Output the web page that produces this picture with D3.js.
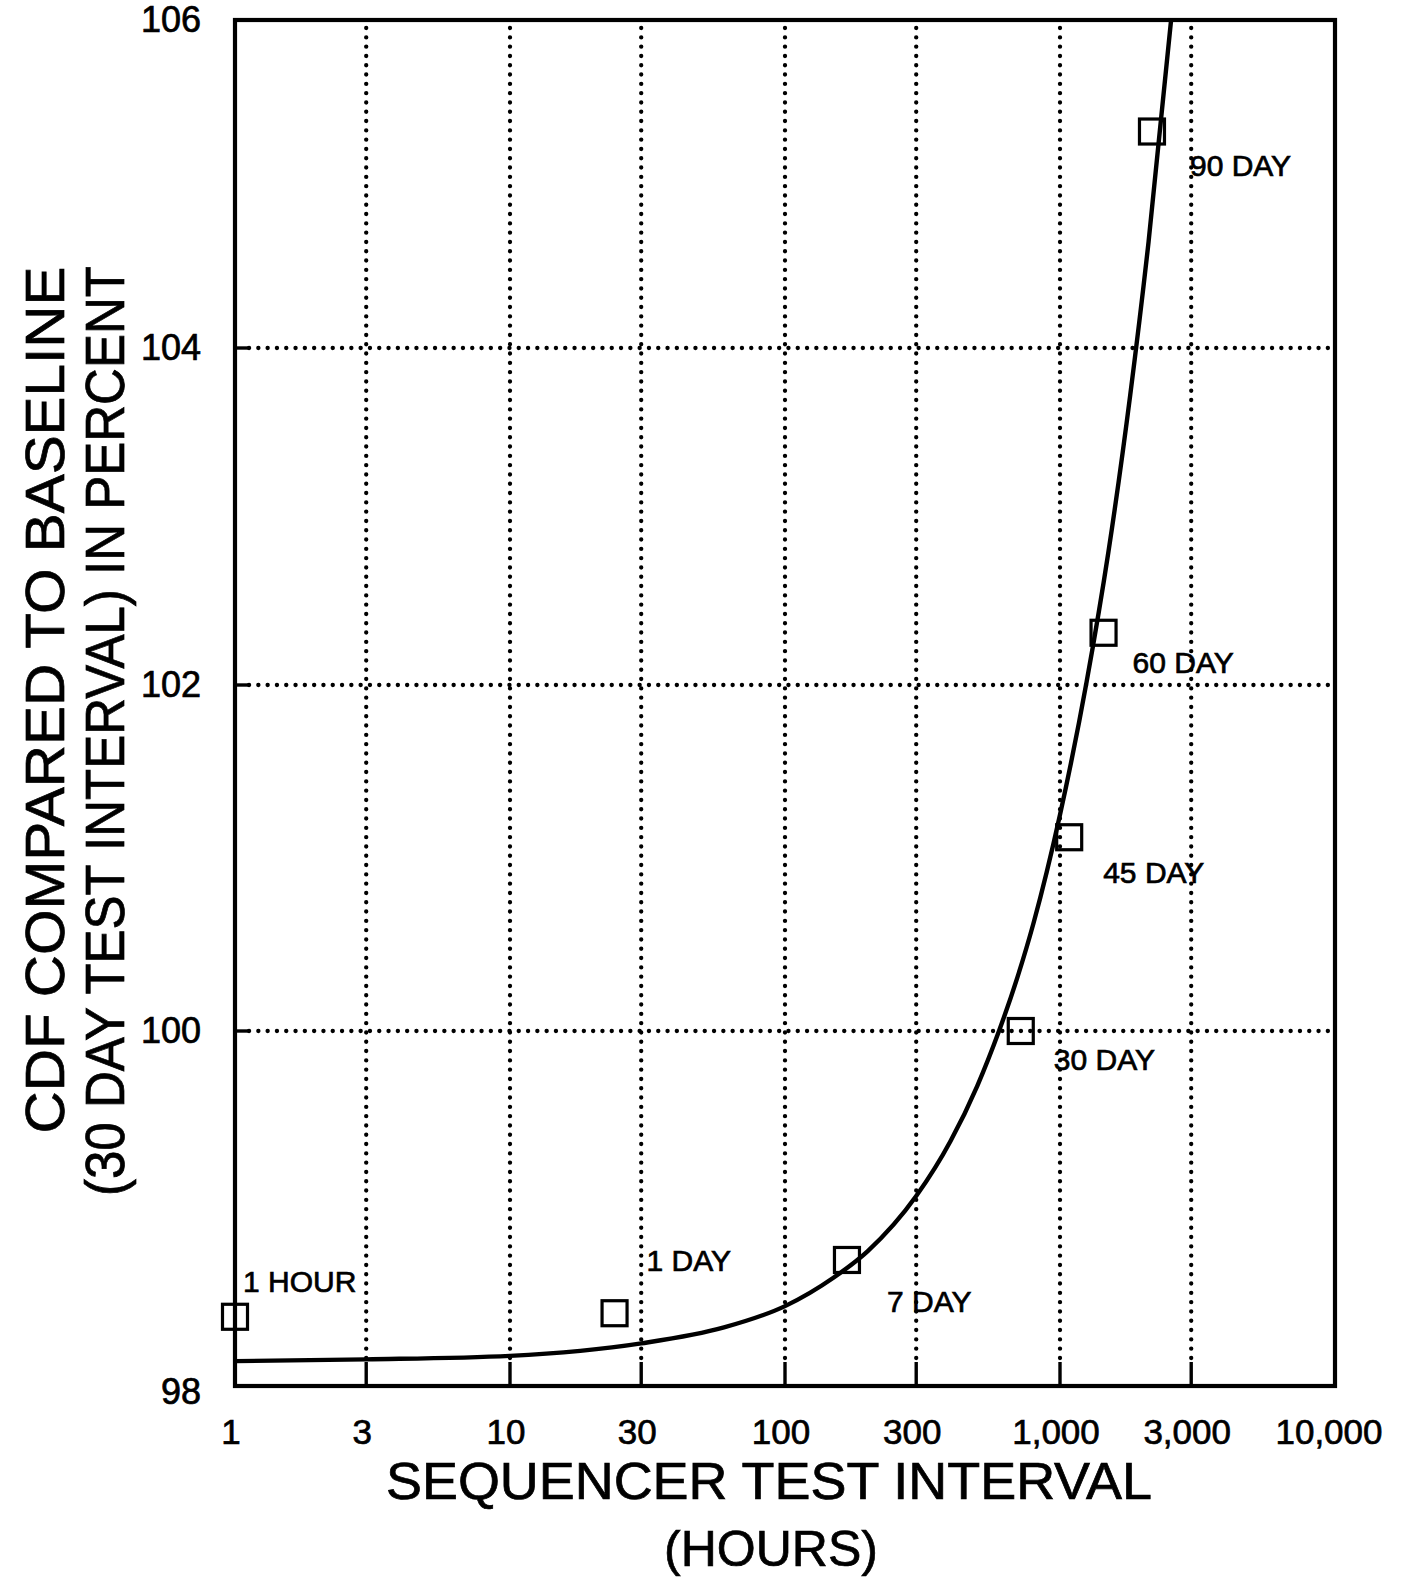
<!DOCTYPE html>
<html>
<head>
    <meta charset='utf-8'/>
    <title>sequencer test interval</title>
    <style>
        body { margin: 0; background: #fff; }
        text { font-family: "Liberation Sans", Arial, Helvetica, sans-serif; fill: #000; stroke: #000; stroke-width: 0.7px; }
        .grid { stroke: #000; stroke-width: 4.3; stroke-linecap: round; stroke-dasharray: 0.1 9.2; fill: none; }
        .frame { stroke: #000; stroke-width: 4.2; fill: none; }
        .curve { stroke: #000; stroke-width: 4.4; fill: none; }
        .pt { stroke: #000; stroke-width: 3.2; fill: none; }
    </style>
</head>
<body>
<div id="chart"></div>

<script src="https://d3js.org/d3.v7.min.js"></script>
<script type="text/javascript">

    // tested intervals (hours) and CDF relative to the 30 day baseline
    var hours = [1, 24, 168, 720, 1080, 1440, 2160];
    var cdfPct = [98.39, 98.41, 98.71, 100.0, 101.12, 102.31, 105.32];
    var pointNames = ["1 HOUR", "1 DAY", "7 DAY", "30 DAY", "45 DAY", "60 DAY", "90 DAY"];

    // fitted curve
    var curveHours = [1, 3, 10, 30, 60, 100, 150, 200, 300, 400, 500, 600, 700, 800, 1000, 1250, 1500, 1800, 2100, 2535];
    var curvePct = [98.14, 98.15, 98.17, 98.24, 98.33, 98.45, 98.61, 98.76, 99.07, 99.38, 99.69, 100.0, 100.31, 100.62, 101.25, 102.02, 102.79, 103.72, 104.65, 106.0];

    // axes
    var xTicks = [1, 3, 10, 30, 100, 300, 1000, 3000, 10000];
    var xTickLabels = ["1", "3", "10", "30", "100", "300", "1,000", "3,000", "10,000"];
    var yTicks = [98, 100, 102, 104, 106];
    var yTickLabels = ["98", "100", "102", "104", "106"];

    // dims
    var svg_dx = 1405,
        svg_dy = 1580,
        plot = {left: 235, right: 1335, top: 20, bottom: 1386};

    var x = d3.scaleLog().domain([1, 10000]).range([plot.left, plot.right]);
    // scan is slightly stretched toward the bottom, so piecewise
    var y = d3.scaleLinear().domain(yTicks).range([plot.bottom, 1031, 685, 348, plot.top]);

    var svg = d3.select("#chart")
        .append("svg")
        .attr("width", svg_dx)
        .attr("height", svg_dy);

    svg.append("defs").append("clipPath")
        .attr("id", "plotclip")
        .append("rect")
        .attr("x", plot.left).attr("y", plot.top)
        .attr("width", plot.right - plot.left).attr("height", plot.bottom - plot.top);

    /* dotted grid */
    var grid = svg.append("g");

    grid.selectAll("line.vgrid")
        .data(xTicks.slice(1, -1))
        .enter()
        .append("line")
        .attr("class", "grid vgrid")
        .attr("x1", d => x(d)).attr("x2", d => x(d))
        .attr("y1", plot.top + 8).attr("y2", plot.bottom - 24);

    grid.selectAll("line.hgrid")
        .data(yTicks.slice(1, -1))
        .enter()
        .append("line")
        .attr("class", "grid hgrid")
        .attr("x1", plot.left + 14).attr("x2", plot.right - 4)
        .attr("y1", d => y(d)).attr("y2", d => y(d));

    // solid ticks inside frame
    grid.selectAll("line.xtick")
        .data(xTicks.slice(1, -1))
        .enter()
        .append("line")
        .attr("class", "xtick")
        .attr("stroke", "#000").attr("stroke-width", 3.4)
        .attr("x1", d => x(d)).attr("x2", d => x(d))
        .attr("y1", plot.bottom).attr("y2", plot.bottom - 24);

    grid.selectAll("line.ytick")
        .data(yTicks.slice(1, -1))
        .enter()
        .append("line")
        .attr("class", "ytick")
        .attr("stroke", "#000").attr("stroke-width", 3.4)
        .attr("x1", plot.left).attr("x2", plot.left + 14)
        .attr("y1", d => y(d)).attr("y2", d => y(d));

    /* frame */
    svg.append("rect")
        .attr("class", "frame")
        .attr("x", plot.left).attr("y", plot.top)
        .attr("width", plot.right - plot.left).attr("height", plot.bottom - plot.top);

    /* tick labels */
    svg.append("g").selectAll("text")
        .data(xTicks)
        .enter()
        .append("text")
        .attr("x", (d, i) => x(d) - (i == xTicks.length - 1 ? 6 : 4))
        .attr("y", 1444)
        .attr("text-anchor", "middle")
        .style("font-size", "35px")
        .text((d, i) => xTickLabels[i]);

    svg.append("g").selectAll("text")
        .data(yTicks)
        .enter()
        .append("text")
        .attr("x", 201)
        .attr("y", (d, i) => y(d) + (i == 0 ? 18 : 12))
        .attr("text-anchor", "end")
        .style("font-size", "36px")
        .text((d, i) => yTickLabels[i]);

    /* fitted curve */
    var line = d3.line()
        .x(d => x(d[0]))
        .y(d => y(d[1]))
        .curve(d3.curveMonotoneX);

    svg.append("path")
        .attr("class", "curve")
        .attr("clip-path", "url(#plotclip)")
        .attr("d", line(d3.zip(curveHours, curvePct)));

    /* square markers */
    var sq = 25;
    svg.append("g").selectAll("rect")
        .data(d3.zip(hours, cdfPct))
        .enter()
        .append("rect")
        .attr("class", "pt")
        .attr("x", d => x(d[0]) - sq / 2)
        .attr("y", d => y(d[1]) - sq / 2)
        .attr("width", sq)
        .attr("height", sq);

    // label offsets from the marker (dx, dy)
    var labelOffsets = [[8, -25], [32, -42], [40, 52], [33, 39], [34, 46], [29, 40], [38, 44]];

    svg.append("g").selectAll("text")
        .data(d3.zip(hours, cdfPct))
        .enter()
        .append("text")
        .attr("x", (d, i) => x(d[0]) + labelOffsets[i][0])
        .attr("y", (d, i) => y(d[1]) + labelOffsets[i][1])
        .style("font-size", "30px")
        .text((d, i) => pointNames[i]);

    /* axis titles */
    svg.append("text")
        .attr("x", 769)
        .attr("y", 1499)
        .attr("text-anchor", "middle")
        .style("font-size", "52px")
        .attr("textLength", 766)
        .attr("lengthAdjust", "spacingAndGlyphs")
        .text("SEQUENCER TEST INTERVAL");

    svg.append("text")
        .attr("x", 771)
        .attr("y", 1566)
        .attr("text-anchor", "middle")
        .style("font-size", "50px")
        .text("(HOURS)");

    svg.append("text")
        .attr("transform", "translate(64,700) rotate(-90)")
        .attr("text-anchor", "middle")
        .style("font-size", "56px")
        .attr("textLength", 867)
        .attr("lengthAdjust", "spacingAndGlyphs")
        .text("CDF COMPARED TO BASELINE");

    svg.append("text")
        .attr("transform", "translate(124,731) rotate(-90)")
        .attr("text-anchor", "middle")
        .style("font-size", "56px")
        .attr("textLength", 930)
        .attr("lengthAdjust", "spacingAndGlyphs")
        .text("(30 DAY TEST INTERVAL) IN PERCENT");

</script>

</body>
</html>
